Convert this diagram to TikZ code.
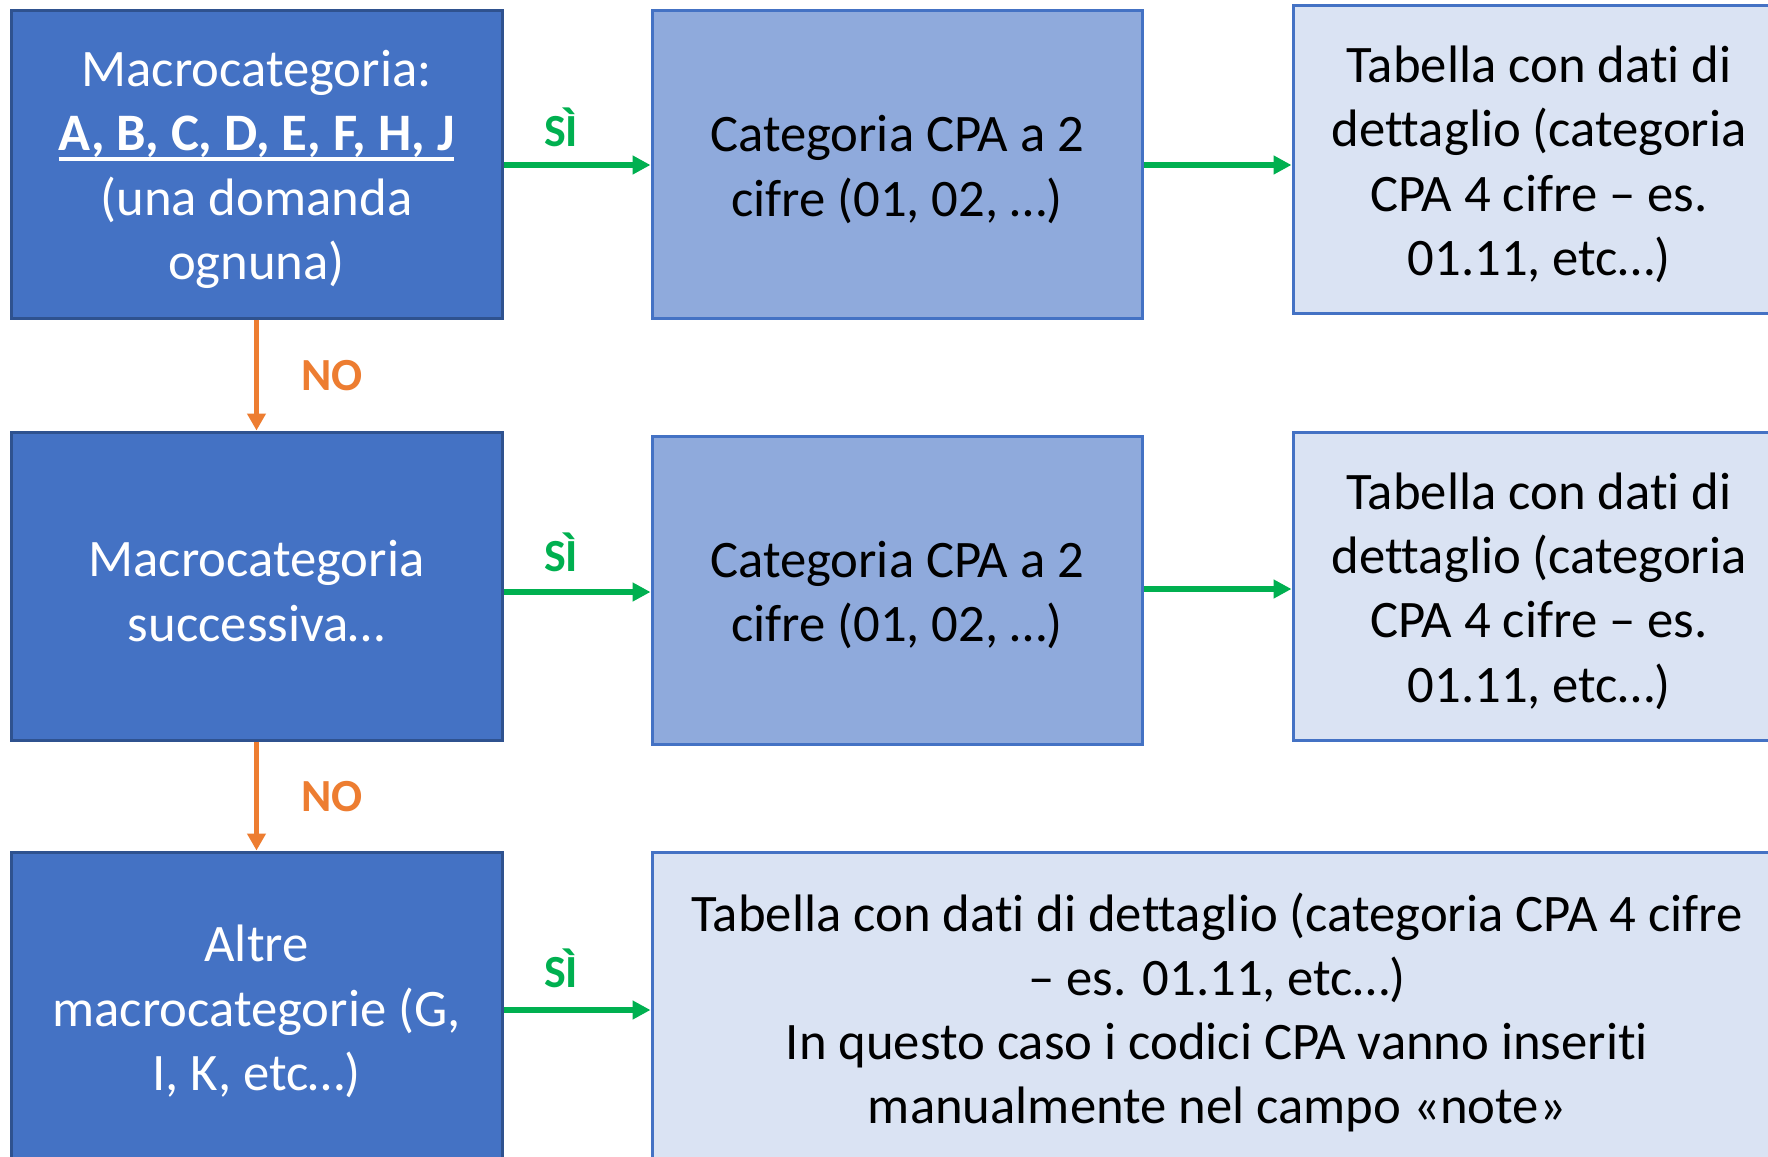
\documentclass[tikz,border=0pt]{standalone}
\usepackage{fontspec}
\setmainfont{Carlito}[Ligatures={NoCommon}]
\usetikzlibrary{arrows.meta,calc}
\definecolor{dblue}{HTML}{4472C4}
\definecolor{dborder}{HTML}{2F528F}
\definecolor{mblue}{HTML}{8FAADC}
\definecolor{lblue}{HTML}{DAE3F3}
\definecolor{okgreen}{HTML}{00B050}
\definecolor{noorange}{HTML}{ED7D31}
\newlength\myulw
\newcommand\myul[1]{\settowidth\myulw{#1}\rlap{\rule[-10pt]{\myulw}{3.5pt}}#1}
\tikzset{
  x=1pt,y=-1pt,
  boxbase/.style={rectangle,inner sep=0pt},
  darkbox/.style={boxbase,fill=dblue,draw=dborder,line width=3pt,minimum width=491pt},
  midbox/.style={boxbase,fill=mblue,draw=dblue,line width=3pt,minimum width=490pt},
  lightbox/.style={boxbase,fill=lblue,draw=dblue,line width=3pt},
  boxtext/.style={inner sep=0pt,align=center,font=\fontsize{52.7}{64.3}\selectfont},
  yesarrow/.style={draw=okgreen,line width=5.5pt,-{Triangle[length=18pt,width=18pt]}},
  noarrow/.style={draw=noorange,line width=5pt,-{Triangle[length=17pt,width=18pt]}},
  yeslbl/.style={text=okgreen,font=\fontsize{46}{50}\selectfont\bfseries,inner sep=0pt},
  nolbl/.style={text=noorange,font=\fontsize{46}{50}\selectfont\bfseries,inner sep=0pt},
}
\begin{document}
\begin{tikzpicture}
\clip (0,0) rectangle (1768,1156);
\fill[white] (0,0) rectangle (1768,1156);
% left column
\node[darkbox,minimum height=307pt] (A1) at (256.5,164.5) {};
\node[darkbox,minimum height=308pt] (A2) at (256.5,586) {};
\node[darkbox,minimum height=313pt] (A3) at (256.5,1008.5) {};
% middle column
\node[midbox,minimum height=307pt] (B1) at (897,164.5) {};
\node[midbox,minimum height=308pt] (B2) at (897,590) {};
% right column
\node[lightbox,minimum width=492pt,minimum height=307pt] (C1) at (1539,159.5) {};
\node[lightbox,minimum width=492pt,minimum height=308pt] (C2) at (1539,586) {};
\node[lightbox,minimum width=1130pt,minimum height=313pt] (C3) at (1217,1008.5) {};
% texts
\node[boxtext,text=white] (A1t) at ($(A1.center)+(0,5)$) {Macrocategoria:\\\myul{\textbf{A, B, C, D, E, F, H, J}}\\(una domanda\\ognuna)};
\node[boxtext,text=white] (A2t) at ($(A2.center)+(0,5)$) {Macrocategoria\\successiva…};
\node[boxtext,text=white] (A3t) at ($(A3.center)+(0,3)$) {Altre\\macrocategorie (G,\\I, K, etc…)};
\node[boxtext] (B1t) at ($(B1.center)+(0,5)$) {Categoria CPA a 2\\cifre (01, 02, …)};
\node[boxtext] (B2t) at ($(B2.center)+(0,5)$) {Categoria CPA a 2\\cifre (01, 02, …)};
\node[boxtext] (C1t) at ($(C1.center)+(0,5)$) {Tabella con dati di\\dettaglio (categoria\\CPA 4 cifre – es.\\01.11, etc…)};
\node[boxtext] (C2t) at ($(C2.center)+(0,5)$) {Tabella con dati di\\dettaglio (categoria\\CPA 4 cifre – es.\\01.11, etc…)};
\node[boxtext] (C3t) at ($(C3.center)+(0,4)$) {Tabella con dati di dettaglio (categoria CPA 4 cifre\\– es. 01.11, etc…)\\In questo caso i codici CPA vanno inseriti\\manualmente nel campo «note»};
% connectors
\coordinate (p1) at ($(A1.east)+(0,0.5)$);
\draw[yesarrow] (p1) -- (p1 -| B1.west);
\coordinate (p2) at ($(B1.east)+(0,0.5)$);
\draw[yesarrow] (p2) -- (p2 -| C1.west);
\coordinate (p3) at ($(A2.east)+(0,6)$);
\draw[yesarrow] (p3) -- (p3 -| B2.west);
\coordinate (p4) at ($(B2.east)+(0,-1)$);
\draw[yesarrow] (p4) -- (p4 -| C2.west);
\coordinate (p5) at ($(A3.east)+(0,1.5)$);
\draw[yesarrow] (p5) -- (p5 -| C3.west);
\draw[noarrow] (A1.south) -- (A2.north);
\draw[noarrow] (A2.south) -- (A3.north);
% labels
\node[yeslbl] (s1) at (561,127) {SÌ};
\node[yeslbl] (s2) at (561,552) {SÌ};
\node[yeslbl] (s3) at (561,968) {SÌ};
\node[nolbl] (n1) at (332,376) {NO};
\node[nolbl] (n2) at (332,797) {NO};
\end{tikzpicture}
\end{document}
